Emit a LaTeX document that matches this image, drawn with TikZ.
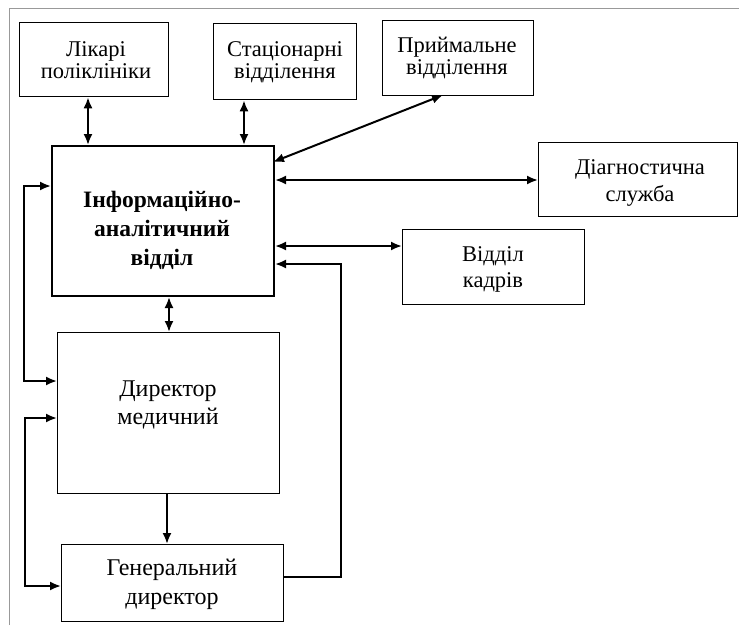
\documentclass[tikz,border=0pt]{standalone}
\usepackage{fontspec}
\setmainfont{Liberation Serif}
\usetikzlibrary{arrows.meta}
\begin{document}
\begin{tikzpicture}[x=1pt,y=-1pt,
  box/.style={draw, line width=1.3pt, inner sep=0pt, anchor=north west},
  lbl/.style={align=center, font=\fontsize{22.5}{22}\selectfont, inner sep=0pt},
  conn/.style={line width=2pt, {Latex[length=11pt,width=9pt]}-{Latex[length=11pt,width=9pt]}},
  oneway/.style={line width=2pt, -{Latex[length=11pt,width=9pt]}},
  frame/.style={draw=gray!80, line width=0.8pt}]
\useasboundingbox (0,0) rectangle (739,625);
\draw[frame] (9,625) -- (9,8) -- (739,8);
% boxes
\node[box, minimum width=149pt, minimum height=74pt] (lik) at (19,22) {};
\node[box, minimum width=143pt, minimum height=76pt] (stat) at (213,23) {};
\node[box, minimum width=151pt, minimum height=75pt] (pryi) at (382,20) {};
\node[box, line width=2pt, minimum width=222pt, minimum height=150pt] (info) at (51,145) {};
\node[box, minimum width=199pt, minimum height=74pt] (diag) at (538,142) {};
\node[box, minimum width=182pt, minimum height=75pt] (kadr) at (402,229) {};
\node[box, minimum width=222pt, minimum height=161pt] (dmed) at (57,332) {};
\node[box, minimum width=222pt, minimum height=77pt] (gen) at (61,544) {};
% texts
\node[lbl] (likt) at (96,60) {Лікарі\\поліклініки};
\node[lbl] (statt) at (285,62) {Стаціонарні\\відділення};
\node[lbl] (pryit) at (457,58) {Приймальне\\відділення};
\node[lbl, font=\bfseries\fontsize{23.5}{29}\selectfont] (infot) at (162,230) {Інформаційно-\\аналітичний\\відділ};
\node[lbl, font=\fontsize{22.5}{27}\selectfont] (diagt) at (640,183) {Діагностична\\служба};
\node[lbl, font=\fontsize{22.5}{26}\selectfont] (kadrt) at (493,269) {Відділ\\кадрів};
\node[lbl, font=\fontsize{24}{28}\selectfont] (dmedt) at (168,405) {Директор\\медичний};
\node[lbl, font=\fontsize{24}{29}\selectfont] (gent) at (172,584) {Генеральний\\директор};
% helper coordinates
\coordinate (x1) at (88,0);
\coordinate (x2) at (244,0);
\coordinate (x3) at (169,0);
\coordinate (x4) at (167,0);
\coordinate (pe) at (443,95);
\coordinate (ps) at (273,162);
\coordinate (y1) at (0,180);
\coordinate (y2) at (0,246);
\coordinate (y3) at (0,264);
\coordinate (y4) at (0,577);
\coordinate (y5) at (0,186);
\coordinate (y6) at (0,381);
\coordinate (y7) at (0,418);
\coordinate (y8) at (0,586);
\coordinate (lx1) at (24,0);
\coordinate (lx2) at (25,0);
\coordinate (rx) at (341,0);
% connectors
\draw[conn] (lik.south -| x1) -- (info.north -| x1);
\draw[conn] (stat.south -| x2) -- (info.north -| x2);
\draw[conn] (ps) -- (pe);
\draw[conn] (info.east |- y1) -- (diag.west |- y1);
\draw[conn] (info.east |- y2) -- (kadr.west |- y2);
\draw[conn] (info.south -| x3) -- (dmed.north -| x3);
\draw[oneway] (dmed.south -| x4) -- (gen.north -| x4);
\draw[oneway] (gen.east |- y4) -- (rx |- y4) -- (rx |- y3) -- (info.east |- y3);
\draw[conn] (info.west |- y5) -- (lx1 |- y5) -- (lx1 |- y6) -- (dmed.west |- y6);
\draw[conn] (dmed.west |- y7) -- (lx2 |- y7) -- (lx2 |- y8) -- (gen.west |- y8);
\end{tikzpicture}
\end{document}
